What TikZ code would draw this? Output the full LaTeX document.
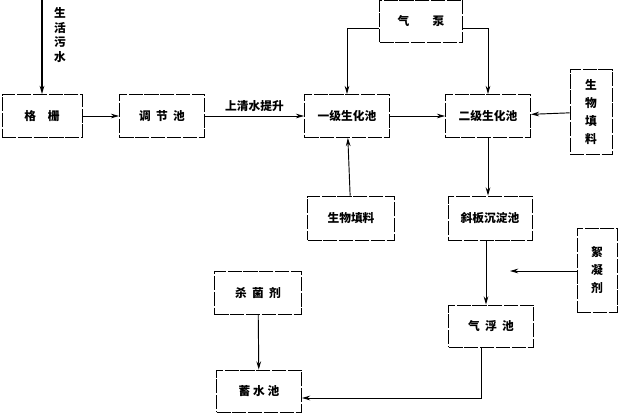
\documentclass[tikz,border=0pt]{standalone}
\usepackage{fontspec}
\setmainfont{Noto Sans CJK SC}
\usetikzlibrary{arrows.meta}
\begin{document}
\begin{tikzpicture}[x=0.03cm,y=-0.03cm,
  box/.style={draw,thick,dashed,dash pattern=on 12pt off 1.5pt,inner sep=0,font=\bfseries\fontsize{10}{12}\selectfont},
  arr/.style={-{Stealth[length=7pt,width=4pt]},thick}]
\useasboundingbox (0,0) rectangle (618,413);
\newcommand\bx[5]{\node[box,minimum width=#3*0.03cm,minimum height=#4*0.03cm] (#1) at (#2) {#5};}
\bx{gs}{42,116}{80}{43}{格\quad 栅}
\bx{tj}{162,116}{85}{43}{调\ \ 节\ \ 池}
\bx{y1}{347,116}{85}{43}{一级生化池}
\bx{y2}{488,116}{85}{43}{二级生化池}
\bx{qb}{421,21}{83}{42}{气\qquad 泵}
\bx{tl1}{591,112}{42}{85}{\shortstack{生\\[3pt]物\\[3pt]填\\[3pt]料}}
\bx{tl2}{351,218}{87}{44}{生物填料}
\bx{xb}{490,218}{84}{44}{斜板沉淀池}
\bx{xn}{597,270}{40}{84}{\shortstack{絮\\[3pt]凝\\[3pt]剂}}
\bx{qf}{491,326}{85}{42}{气\ \ 浮\ \ 池}
\bx{sj}{258,293}{87}{43}{杀\ \ 菌\ \ 剂}
\bx{xs}{259,391}{85}{42}{蓄\ 水\ 池}
\coordinate (in) at (42,0);
\draw[arr,very thick] (in) -- (gs);
\node[font=\bfseries\fontsize{10}{12}\selectfont,align=center] at (60,35) {\shortstack{生\\活\\污\\水}};
\draw[arr] (gs) -- (tj);
\draw[arr] (tj) -- node[above,font=\bfseries\fontsize{10}{12}\selectfont]{上清水提升} (y1);
\draw[arr] (y1) -- (y2);
\draw[arr] (tl1) -- (y2);
\draw[arr] (qb.west |- 0,28) -| (y1.north);
\draw[arr] (qb.east |- 0,28) -| (y2.north);
\draw[arr] (tl2) -- (y1);
\draw[arr] (y2) -- (y2.south |- xb.north);
\draw[arr] (xb.south -| 486,0) -- (qf.north -| 486,0);
\draw[arr] (xn.west |- 0,271) -- (510,271);
\draw[arr] (qf.south -| 481,0) |- (xs.east |- 0,398);
\draw[arr] (sj) -- (xs);
\end{tikzpicture}
\end{document}
